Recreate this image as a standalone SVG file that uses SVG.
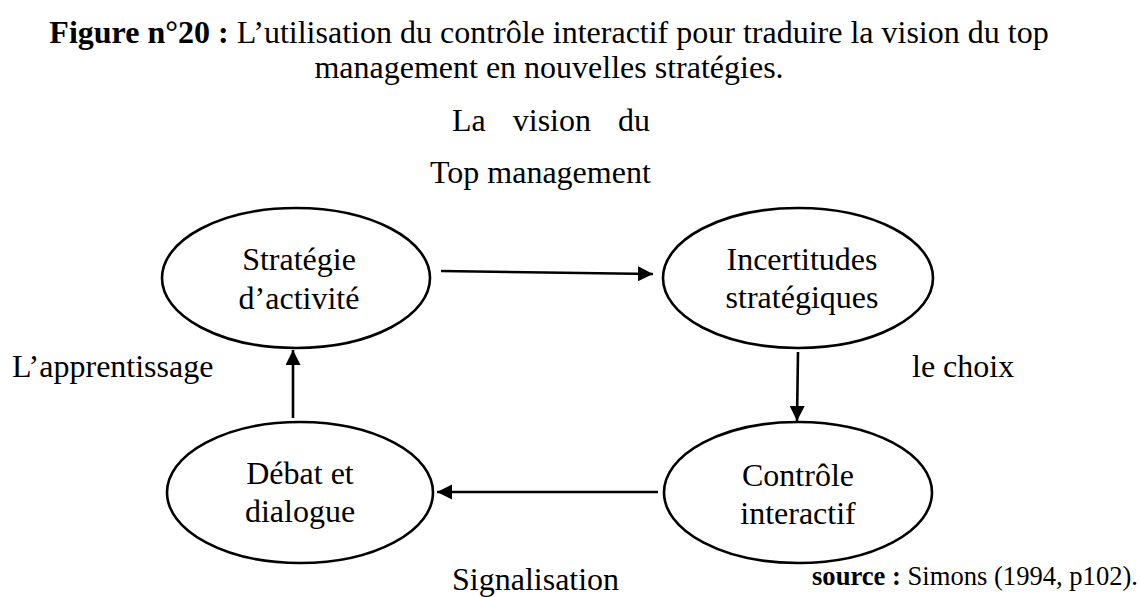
<svg xmlns="http://www.w3.org/2000/svg" width="1140" height="597" viewBox="0 0 1140 597">
  <style>
    text, tspan { font-family: "Liberation Serif", "Times New Roman", serif; fill: #000; }
    .t32 { font-size: 32px; }
    .ctr { text-anchor: middle; }
    .b { font-weight: bold; }
    .src { font-size: 26.6px; }
    .node ellipse { fill: #fff; stroke: #000; stroke-width: 2.6; }
    .edge { fill: none; stroke: #000; stroke-width: 2.6; }
  </style>
  <defs>
    <marker id="arrow" markerUnits="userSpaceOnUse" markerWidth="16" markerHeight="16" refX="15" refY="7.5" orient="auto">
      <path d="M0,0 L15,7.5 L0,15 Z" fill="#000"/>
    </marker>
  </defs>

  <rect width="1140" height="597" fill="#fff"/>

  <!-- caption -->
  <g id="caption">
    <text class="t32 ctr" x="549" y="43"><tspan class="b">Figure n°20 :</tspan> L’utilisation du contrôle interactif pour traduire la vision du top</text>
    <text class="t32 ctr" x="549" y="78">management en nouvelles stratégies.</text>
  </g>

  <!-- heading above the cycle -->
  <g id="vision">
    <text class="t32" x="452" y="131" word-spacing="19">La vision du</text>
    <text class="t32" x="430" y="183">Top management</text>
  </g>

  <!-- connectors -->
  <g id="connectors">
    <line class="edge" x1="441" y1="271" x2="653" y2="274" marker-end="url(#arrow)"/>
    <line class="edge" x1="798" y1="352" x2="797" y2="421" marker-end="url(#arrow)"/>
    <line class="edge" x1="658" y1="492" x2="437" y2="492" marker-end="url(#arrow)"/>
    <line class="edge" x1="293" y1="418" x2="293" y2="350" marker-end="url(#arrow)"/>
  </g>

  <!-- nodes -->
  <g id="strategie" class="node">
    <ellipse cx="296" cy="278" rx="134" ry="70"/>
    <text class="t32 ctr" x="299" y="270">Stratégie</text>
    <text class="t32 ctr" x="299" y="309">d’activité</text>
  </g>

  <g id="incertitudes" class="node">
    <ellipse cx="798" cy="278" rx="135" ry="70"/>
    <text class="t32 ctr" x="802" y="270">Incertitudes</text>
    <text class="t32 ctr" x="802" y="308">stratégiques</text>
  </g>

  <g id="controle" class="node">
    <ellipse cx="798" cy="492.5" rx="134" ry="70.5"/>
    <text class="t32 ctr" x="798" y="486">Contrôle</text>
    <text class="t32 ctr" x="798" y="524">interactif</text>
  </g>

  <g id="debat" class="node">
    <ellipse cx="300" cy="492.5" rx="133" ry="70.5"/>
    <text class="t32 ctr" x="300" y="484">Débat et</text>
    <text class="t32 ctr" x="300" y="522">dialogue</text>
  </g>

  <!-- side labels -->
  <g id="labels">
    <text class="t32" x="12" y="377">L’apprentissage</text>
    <text class="t32" x="912" y="377">le choix</text>
    <text class="t32" x="452" y="590">Signalisation</text>
    <text class="src" x="812" y="585"><tspan class="b">source :</tspan> Simons (1994, p102).</text>
  </g>
</svg>
